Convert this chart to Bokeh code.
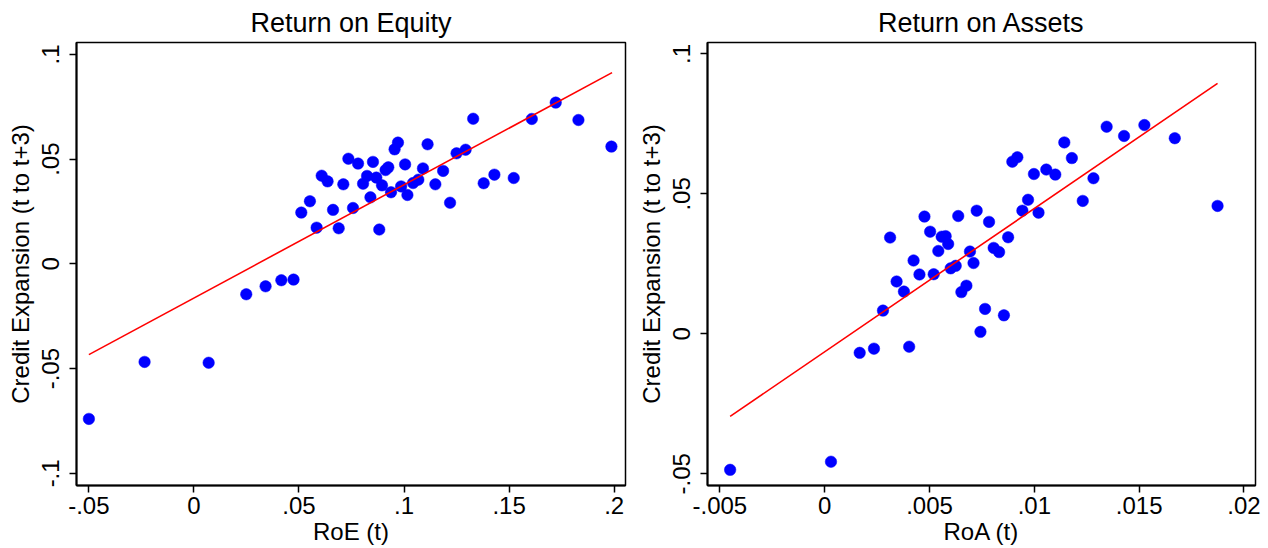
from bokeh.plotting import figure
from bokeh.layouts import row
from bokeh.models import FixedTicker, Range1d
from bokeh.embed import file_html
from bokeh.resources import INLINE

# ---------------- data: Return on Equity ----------------
roe_x = [-0.050, -0.0235, 0.007, 0.0249, 0.0341, 0.0416, 0.0474, 0.0511, 0.0552, 0.0584,
         0.0608, 0.0636, 0.0662, 0.0689, 0.0711, 0.0735, 0.0757, 0.0781, 0.0805, 0.0824,
         0.0840, 0.0852, 0.0868, 0.0882, 0.0895, 0.0912, 0.0925, 0.0938, 0.0955, 0.0971,
         0.0986, 0.1005, 0.1016, 0.1043, 0.1068, 0.1090, 0.1112, 0.1149, 0.1186, 0.1219,
         0.1250, 0.1293, 0.1329, 0.1379, 0.1430, 0.1522, 0.1608, 0.1722, 0.1830, 0.1987]
roe_y = [-0.0740, -0.0468, -0.0472, -0.0145, -0.0107, -0.0078, -0.0075, 0.0245, 0.0299, 0.0173,
         0.0421, 0.0394, 0.0258, 0.0170, 0.0380, 0.0502, 0.0267, 0.0479, 0.0383, 0.0420,
         0.0318, 0.0487, 0.0412, 0.0164, 0.0375, 0.0448, 0.0461, 0.0342, 0.0547, 0.0579,
         0.0370, 0.0475, 0.0329, 0.0386, 0.0402, 0.0456, 0.0571, 0.0380, 0.0444, 0.0292,
         0.0528, 0.0545, 0.0693, 0.0385, 0.0426, 0.0410, 0.0692, 0.0770, 0.0687, 0.0560]
roe_fit_x = [-0.050, 0.199]
roe_fit_y = [-0.0433, 0.0913]
roe_xticks = [-0.05, 0.0, 0.05, 0.1, 0.15, 0.2]
roe_xtick_labels = ["-.05", "0", ".05", ".1", ".15", ".2"]
roe_yticks = [-0.1, -0.05, 0.0, 0.05, 0.1]
roe_ytick_labels = ["-.1", "-.05", "0", ".05", ".1"]

# ---------------- data: Return on Assets ----------------
roa_x = [-0.00451, 0.00030, 0.00167, 0.00235, 0.00278, 0.00403, 0.00343, 0.00378, 0.00452, 0.00520,
         0.00312, 0.00476, 0.00503, 0.00558, 0.00577, 0.00542, 0.00424, 0.00589, 0.00601, 0.00625,
         0.00637, 0.00652, 0.00676, 0.00693, 0.00710, 0.00725, 0.00784, 0.00806, 0.00832, 0.00875,
         0.00895, 0.00919, 0.00943, 0.00970, 0.00998, 0.01020, 0.01057, 0.01100, 0.01143, 0.01179,
         0.01231, 0.01282, 0.01345, 0.01428, 0.01525, 0.01670, 0.01874, 0.00765, 0.00855, 0.00743]
roa_y = [-0.0486, -0.0457, -0.0068, -0.0053, 0.0083, -0.0046, 0.0187, 0.0151, 0.0212, 0.0213,
         0.0344, 0.0419, 0.0365, 0.0347, 0.0349, 0.0296, 0.0262, 0.0321, 0.0234, 0.0243,
         0.0421, 0.0149, 0.0172, 0.0294, 0.0253, 0.0440, 0.0400, 0.0307, 0.0292, 0.0345,
         0.0615, 0.0631, 0.0440, 0.0479, 0.0571, 0.0433, 0.0587, 0.0569, 0.0684, 0.0628,
         0.0475, 0.0556, 0.0740, 0.0707, 0.0746, 0.0699, 0.0457, 0.0089, 0.0066, 0.0007]
roa_fit_x = [-0.00451, 0.01874]
roa_fit_y = [-0.0295, 0.0895]
roa_xticks = [-0.005, 0.0, 0.005, 0.01, 0.015, 0.02]
roa_xtick_labels = ["-.005", "0", ".005", ".01", ".015", ".02"]
roa_yticks = [-0.05, 0.0, 0.05, 0.1]
roa_ytick_labels = ["-.05", "0", ".05", ".1"]

YLABEL = "Credit Expansion (t to t+3)"
FONT = "Liberation Sans"


def make_panel(title, xlabel, x, y, fx, fy, xr, yr, xticks, xlabels, yticks, ylabels,
               border_left, border_right):
    p = figure(width=634, height=548, output_backend="svg", toolbar_location=None,
               x_range=Range1d(*xr), y_range=Range1d(*yr),
               min_border_left=border_left, min_border_right=border_right,
               min_border_top=42, min_border_bottom=63)
    p.title.text = title
    p.title.align = "center"
    p.title.text_font = FONT
    p.title.text_font_size = "27px"
    p.title.text_font_style = "normal"
    p.title.text_color = "black"
    p.title.standoff = 9

    p.xgrid.visible = False
    p.ygrid.visible = False
    p.outline_line_color = "black"
    p.outline_line_width = 1.5
    p.background_fill_color = "white"
    p.border_fill_color = "white"

    p.xaxis.ticker = FixedTicker(ticks=xticks)
    p.xaxis.major_label_overrides = {t: l for t, l in zip(xticks, xlabels)}
    p.yaxis.ticker = FixedTicker(ticks=yticks)
    p.yaxis.major_label_overrides = {t: l for t, l in zip(yticks, ylabels)}
    p.yaxis.major_label_orientation = "vertical"
    p.xaxis.axis_label = xlabel
    p.yaxis.axis_label = YLABEL

    for ax in (p.xaxis, p.yaxis):
        ax.axis_line_color = "black"
        ax.axis_line_width = 2
        ax.major_tick_line_color = "black"
        ax.major_tick_line_width = 1.5
        ax.major_tick_in = 0
        ax.major_tick_out = 7
        ax.minor_tick_line_color = None
        ax.major_label_text_font = FONT
        ax.major_label_text_font_size = "24px"
        ax.major_label_text_color = "black"
        ax.axis_label_text_font = FONT
        ax.axis_label_text_font_size = "24px"
        ax.axis_label_text_font_style = "normal"
        ax.axis_label_text_color = "black"

    p.xaxis.major_label_standoff = 4
    p.xaxis.axis_label_standoff = 1
    p.yaxis.major_label_standoff = 10
    p.yaxis.axis_label_standoff = 6

    p.scatter(x, y, size=11.5, fill_color="#0000FF", line_color="#0000FF", line_width=0.5)
    p.line(fx, fy, line_color="#FF0000", line_width=1.6)
    return p


p1 = make_panel("Return on Equity", "RoE (t)", roe_x, roe_y, roe_fit_x, roe_fit_y,
                (-0.0559, 0.2054), (-0.1058, 0.1057),
                roe_xticks, roe_xtick_labels, roe_yticks, roe_ytick_labels, 76, 9)
p2 = make_panel("Return on Assets", "RoA (t)", roa_x, roa_y, roa_fit_x, roa_fit_y,
                (-0.00559, 0.02055), (-0.0542, 0.1041),
                roa_xticks, roa_xtick_labels, roa_yticks, roa_ytick_labels, 72, 13)

layout = row(p1, p2)
open("out.html", "w").write(file_html(layout, INLINE))
